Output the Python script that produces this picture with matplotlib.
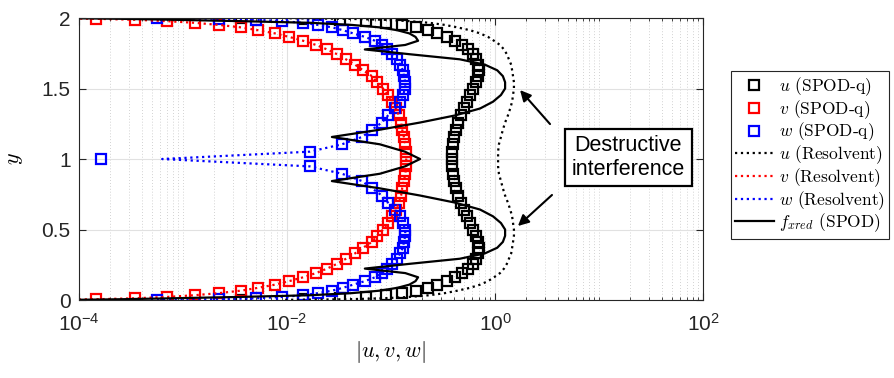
import matplotlib
matplotlib.use('Agg')
import matplotlib.pyplot as plt
import numpy as np
from matplotlib.ticker import LogLocator, NullFormatter

plt.rcParams['font.family'] = 'Liberation Sans'
plt.rcParams['mathtext.fontset'] = 'cm'

# wall-normal collocation points (walls excluded)
y = [0.0014, 0.0055, 0.0123, 0.0219, 0.0341, 0.0489, 0.0664, 0.0865, 0.1090, 0.1340,
     0.1613, 0.1910, 0.2229, 0.2569, 0.2929, 0.3309, 0.3707, 0.4122, 0.4554, 0.5000,
     0.5460, 0.5933, 0.6416, 0.6910, 0.7412, 0.7921, 0.8436, 0.8955, 0.9477, 1.0000,
     1.0523, 1.1045, 1.1564, 1.2079, 1.2588, 1.3090, 1.3584, 1.4067, 1.4540, 1.5000,
     1.5446, 1.5878, 1.6293, 1.6691, 1.7071, 1.7431, 1.7771, 1.8090, 1.8387, 1.8660,
     1.8910, 1.9135, 1.9336, 1.9511, 1.9659, 1.9781, 1.9877, 1.9945, 1.9986]

# SPOD-q modes
u_spod = [0.0036, 0.0143, 0.032, 0.057, 0.090, 0.128, 0.174, 0.227, 0.277, 0.345,
          0.412, 0.482, 0.549, 0.614, 0.656, 0.687, 0.702, 0.687, 0.656, 0.614,
          0.575, 0.538, 0.503, 0.471, 0.441, 0.422, 0.404, 0.394, 0.389, 0.387,
          0.389, 0.394, 0.404, 0.422, 0.441, 0.471, 0.503, 0.538, 0.575, 0.614,
          0.656, 0.687, 0.702, 0.687, 0.656, 0.614, 0.549, 0.482, 0.412, 0.345,
          0.277, 0.227, 0.174, 0.128, 0.090, 0.057, 0.032, 0.0143, 0.0036]
v_spod = [5e-5, 1.46e-4, 3.45e-4, 7.0e-4, 1.30e-3, 2.22e-3, 3.61e-3, 5.26e-3, 7.67e-3, 0.0105,
          0.0143, 0.0190, 0.0243, 0.0303, 0.0369, 0.0451, 0.0538, 0.0656, 0.0733, 0.0838,
          0.0935, 0.102, 0.112, 0.119, 0.125, 0.128, 0.133, 0.137, 0.140, 0.140,
          0.140, 0.137, 0.133, 0.128, 0.125, 0.119, 0.112, 0.102, 0.0935, 0.0838,
          0.0733, 0.0656, 0.0538, 0.0451, 0.0369, 0.0303, 0.0243, 0.0190, 0.0143, 0.0105,
          7.67e-3, 5.26e-3, 3.61e-3, 2.22e-3, 1.30e-3, 7.0e-4, 3.45e-4, 1.46e-4, 5e-5]
w_spod = [5.62e-4, 2.22e-3, 5.04e-3, 8.95e-3, 0.0143, 0.0199, 0.0271, 0.0345, 0.0432, 0.0562,
          0.0702, 0.0818, 0.0917, 0.102, 0.114, 0.122, 0.130, 0.133, 0.137, 0.137,
          0.130, 0.122, 0.109, 0.0935, 0.0818, 0.0656, 0.0526, 0.0338, 0.0166, 1.63e-4,
          0.0166, 0.0338, 0.0526, 0.0656, 0.0818, 0.0935, 0.109, 0.122, 0.130, 0.137,
          0.137, 0.133, 0.130, 0.122, 0.114, 0.102, 0.0917, 0.0818, 0.0702, 0.0562,
          0.0432, 0.0345, 0.0271, 0.0199, 0.0143, 8.95e-3, 5.04e-3, 2.22e-3, 5.62e-4]

# resolvent modes
u_res = [0.0096, 0.038, 0.085, 0.150, 0.235, 0.33, 0.436, 0.575, 0.718, 0.857,
         0.978, 1.117, 1.22, 1.30, 1.36, 1.43, 1.46, 1.49, 1.52, 1.52,
         1.49, 1.46, 1.40, 1.33, 1.25, 1.19, 1.14, 1.09, 1.07, 1.07,
         1.07, 1.09, 1.14, 1.19, 1.25, 1.33, 1.40, 1.46, 1.49, 1.52,
         1.52, 1.49, 1.46, 1.43, 1.36, 1.30, 1.22, 1.117, 0.978, 0.857,
         0.718, 0.575, 0.436, 0.33, 0.235, 0.150, 0.085, 0.038, 0.0096]
v_res = [4e-5, 1.46e-4, 3.45e-4, 7.0e-4, 1.30e-3, 2.22e-3, 3.61e-3, 5.26e-3, 7.67e-3, 0.0105,
         0.0143, 0.0190, 0.0243, 0.0303, 0.0369, 0.0451, 0.0538, 0.0656, 0.0733, 0.0838,
         0.0935, 0.102, 0.112, 0.119, 0.125, 0.128, 0.133, 0.137, 0.140, 0.140,
         0.140, 0.137, 0.133, 0.128, 0.125, 0.119, 0.112, 0.102, 0.0935, 0.0838,
         0.0733, 0.0656, 0.0538, 0.0451, 0.0369, 0.0303, 0.0243, 0.0190, 0.0143, 0.0105,
         7.67e-3, 5.26e-3, 3.61e-3, 2.22e-3, 1.30e-3, 7.0e-4, 3.45e-4, 1.46e-4, 4e-5]
w_res = [5.62e-4, 2.22e-3, 5.04e-3, 8.95e-3, 0.0143, 0.0199, 0.0271, 0.0345, 0.0432, 0.0562,
         0.0702, 0.0818, 0.0917, 0.102, 0.114, 0.122, 0.130, 0.133, 0.137, 0.137,
         0.130, 0.122, 0.109, 0.0935, 0.0818, 0.0656, 0.0526, 0.0338, 0.0166, 6.3e-4,
         0.0166, 0.0338, 0.0526, 0.0656, 0.0818, 0.0935, 0.109, 0.122, 0.130, 0.137,
         0.137, 0.133, 0.130, 0.122, 0.114, 0.102, 0.0917, 0.0818, 0.0702, 0.0562,
         0.0432, 0.0345, 0.0271, 0.0199, 0.0143, 8.95e-3, 5.04e-3, 2.22e-3, 5.62e-4]

# reduced forcing from SPOD
f_xred = [9e-5, 2.5e-4, 8e-4, 3.5e-3, 0.017, 0.042, 0.078, 0.115, 0.150, 0.172,
          0.182, 0.137, 0.056, 0.152, 0.46, 0.80, 1.05, 1.19, 1.25, 1.25,
          1.14, 0.957, 0.718, 0.412, 0.19, 0.078, 0.027, 0.078, 0.136, 0.19,
          0.136, 0.078, 0.027, 0.078, 0.19, 0.412, 0.718, 0.957, 1.14, 1.25,
          1.25, 1.19, 1.05, 0.80, 0.46, 0.152, 0.056, 0.137, 0.182, 0.172,
          0.150, 0.115, 0.078, 0.042, 0.017, 3.5e-3, 8e-4, 2.5e-4, 9e-5]

xticks = [1e-4, 1e-2, 1e0, 1e2]
yticks = [0, 0.5, 1, 1.5, 2]
ytick_labels = ['0', '0.5', '1', '1.5', '2']

fig = plt.figure(figsize=(8.95, 3.78), dpi=100)
ax = fig.add_axes([0.0883, 0.2063, 0.6972, 0.746])

ms = 7
mew = 1.6
ax.plot(u_spod, y, 's', color='k', mfc='none', ms=ms, mew=mew, label=r'$u$ (SPOD-q)')
ax.plot(v_spod, y, 's', color='r', mfc='none', ms=ms, mew=mew, label=r'$v$ (SPOD-q)')
ax.plot(w_spod, y, 's', color='b', mfc='none', ms=ms, mew=mew, label=r'$w$ (SPOD-q)')
ax.plot(u_res, y, ':', color='k', lw=1.6, label=r'$u$ (Resolvent)')
ax.plot(v_res, y, ':', color='r', lw=1.6, label=r'$v$ (Resolvent)')
ax.plot(w_res, y, ':', color='b', lw=1.6, label=r'$w$ (Resolvent)')
ax.plot(f_xred, y, '-', color='k', lw=1.6, label=r'$f_{xred}$ (SPOD)')

ax.set_xscale('log')
ax.set_xlim(1e-4, 1e2)
ax.set_ylim(0, 2)
ax.set_xticks(xticks)
ax.xaxis.set_minor_locator(LogLocator(base=10, subs=np.arange(1, 10), numticks=50))
ax.xaxis.set_minor_formatter(NullFormatter())
ax.set_yticks(yticks, ytick_labels)

ax.grid(which='major', color='#e1e1e1', lw=0.8)
ax.grid(which='minor', axis='x', color='#c4c4c4', lw=0.6, ls=(0, (1, 2.5)))
ax.set_axisbelow(True)
ax.tick_params(which='both', direction='in', top=True, right=True,
               color='#262626', labelsize=15, labelcolor='#262626')
ax.tick_params(which='major', length=5, width=0.8)
ax.tick_params(which='minor', length=2.5, width=0.6)
ax.tick_params(axis='x', which='major', pad=9)
ax.tick_params(axis='y', which='major', pad=6)
for s in ax.spines.values():
    s.set_color('#262626')
    s.set_linewidth(0.8)

ax.set_ylabel(r'$y$', fontsize=16)
ax.yaxis.set_label_coords(-0.086, 0.5)
ax.set_xlabel(r'$|u,v,w|$', fontsize=16, labelpad=3)

# annotation
ax.text(19.2, 1.01, 'Destructive\ninterference', ha='center', va='center',
        fontsize=15.5, linespacing=1.15,
        bbox=dict(boxstyle='square,pad=0.3', fc='white', ec='k', lw=1.6))
ax.annotate('', xy=(1.74, 1.489), xytext=(3.38, 1.248),
            arrowprops=dict(arrowstyle='-|>', color='k', lw=1.5,
                            mutation_scale=16, shrinkA=0, shrinkB=0))
ax.annotate('', xy=(1.66, 0.525), xytext=(3.53, 0.745),
            arrowprops=dict(arrowstyle='-|>', color='k', lw=1.5,
                            mutation_scale=16, shrinkA=0, shrinkB=0))

leg = ax.legend(loc='upper left', bbox_to_anchor=(731 / 895, 1 - 71 / 378),
                bbox_transform=fig.transFigure, borderaxespad=0, fancybox=False,
                edgecolor='#262626', framealpha=1, numpoints=1,
                prop={'family': 'cmr10', 'size': 12.5},
                handlelength=2.2, handletextpad=0.3, labelspacing=0.0, borderpad=0.25)
leg.get_frame().set_linewidth(0.8)

fig.savefig('out.png', dpi=100)
